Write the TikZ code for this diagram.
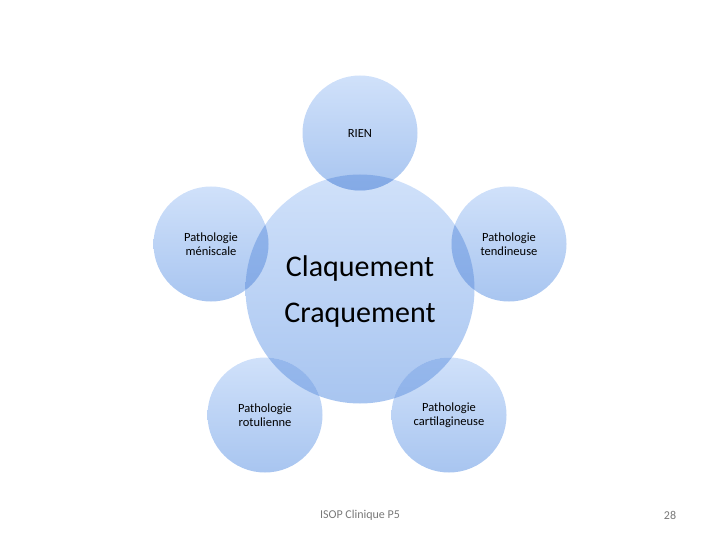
\documentclass[tikz,border=0pt]{standalone}
\usepackage{fontspec}
\setmainfont{Carlito}
\definecolor{btop}{RGB}{208,225,250}
\definecolor{bbot}{RGB}{168,197,240}
\definecolor{otop}{RGB}{150,184,236}
\definecolor{obot}{RGB}{132,170,230}
\definecolor{foot}{RGB}{120,120,120}
\begin{document}
\begin{tikzpicture}[x=1pt,y=-1pt,
  bub/.style={circle,inner sep=0pt,top color=btop,bottom color=bbot,text=black,align=center},
  big/.style={bub,minimum size=229pt},
  sat/.style={bub,minimum size=115pt,font=\fontsize{12.5}{14}\selectfont},
  bigtext/.style={align=center,text=black,font=\fontsize{30}{46}\selectfont},
  footer/.style={text=foot,font=\fontsize{12}{14}\selectfont}]
\useasboundingbox (0,0) rectangle (720,540);
\node[big] (c) at (360,289) {};
\node[sat] (t) at (360,133) {RIEN};
\node[sat] (l) at (211,244) {Pathologie\\méniscale};
\node[sat] (r) at (509,244) {Pathologie\\tendineuse};
\node[sat] (bl) at (265,415) {Pathologie\\rotulienne};
\node[sat] (br) at (449,415) {Pathologie\\cartilagineuse};
\foreach \s in {t,l,r,bl,br}{
  \begin{scope}
    \clip (c.center) circle (114.5);
    \shade[top color=otop,bottom color=obot] (\s.center) circle (57.5);
  \end{scope}
}
\node[bigtext] (ct) at (360,292) {Claquement\\Craquement};
\node[footer] (f) at (360,515) {ISOP Clinique P5};
\node[footer] (p) at (670,515) {28};
\end{tikzpicture}
\end{document}
